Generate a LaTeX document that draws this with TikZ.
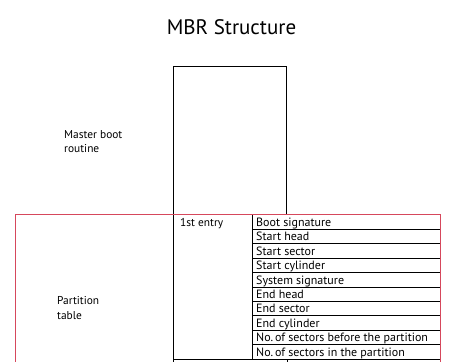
\documentclass[tikz,border=0pt]{standalone}
\usepackage{fontspec}
\setmainfont{PT Sans}
\definecolor{tblred}{RGB}{214,72,92}
\begin{document}
\begin{tikzpicture}[x=1pt,y=-1pt,
  blk/.style={draw=black,line width=0.9pt},
  redbox/.style={draw=tblred,line width=0.9pt},
  lbl/.style={font=\fontsize{11.4}{14.5}\selectfont,inner sep=0pt,anchor=base west,align=left},
  rowtxt/.style={font=\fontsize{12}{13}\selectfont,inner sep=0pt,anchor=base west}]
\useasboundingbox (0,0) rectangle (464,362);
\clip (0,0) rectangle (464,362);
\fill[white] (0,0) rectangle (464,362);
% title
\node[font=\fontsize{21}{24}\selectfont,inner sep=0pt,anchor=base] (title) at (231.5,34) {MBR Structure};
% master boot routine box
\draw[blk] (173,370) -- (173,66) -- (286,66) -- (286,214.5);
\node[lbl] (mbr) at (64,152.5) {Master boot\\routine};
% partition entry
\def\rowh{14.4}
\draw[blk] (252,215) -- (252,359);
\foreach \i in {1,...,9} { \draw[blk] (252,215+\i*\rowh) -- (440,215+\i*\rowh); }
\draw[blk] (173,359) -- (440,359);
\draw[blk] (287,359) -- (287,370);
\node[lbl] (entry) at (180,226.5) {1st entry};
\foreach \t [count=\i from 0] in {Boot signature,Start head,Start sector,Start cylinder,System signature,End head,End sector,End cylinder,No.\,of sectors before the partition,No.\,of sectors in the partition}
  { \node[rowtxt] (row\i) at (256,226.5+\i*\rowh) {\t}; }
% partition table
\draw[redbox] (15,370) -- (15,214.5) -- (440,214.5) -- (440,370);
\node[lbl] (pt) at (57,319) {Partition\\table};
\end{tikzpicture}
\end{document}
